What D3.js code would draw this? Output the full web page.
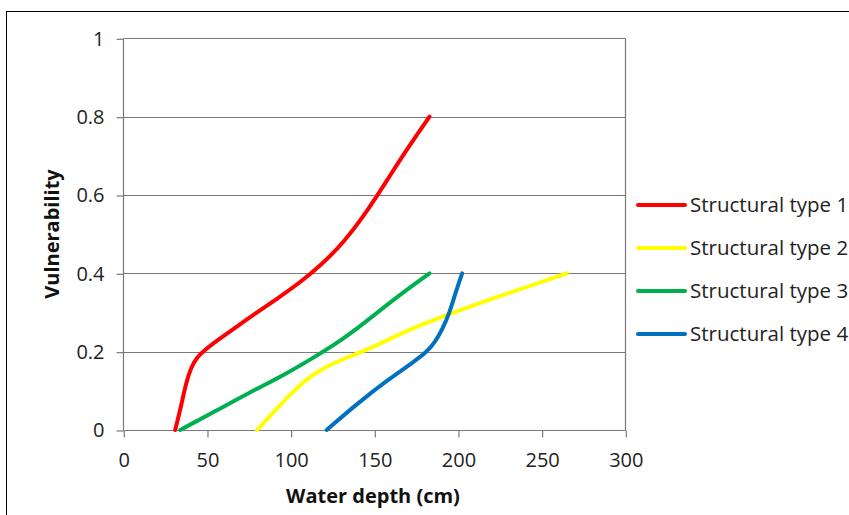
<!DOCTYPE html>
<html><head><meta charset="utf-8">
<script src="https://cdn.jsdelivr.net/npm/d3@7"></script>
<style>body{margin:0;background:#fff}svg{display:block}text{font-family:"Open Sans",Carlito,Calibri,sans-serif}</style>
</head><body><svg id="c" width="849" height="515"></svg>
<script>
const seriesNames = ["Structural type 1","Structural type 2","Structural type 3","Structural type 4"];
const seriesColors = ["#FF0000","#FFFF00","#00B050","#0070C0"];
const type1Depth = [31,34.5,37.5,40.5,44,48,55,65,78,92,106,118,132,146,158,170,183];
const type1Vuln  = [0,0.06,0.12,0.16,0.185,0.202,0.225,0.255,0.295,0.335,0.378,0.42,0.48,0.56,0.64,0.72,0.8];
const type2Depth = [80,95,110,125,138,150,165,187,220,265];
const type2Vuln  = [0,0.07,0.135,0.17,0.192,0.213,0.245,0.284,0.335,0.4];
const type3Depth = [34,55,75,96,115,130,145,162,183];
const type3Vuln  = [0,0.048,0.095,0.14,0.188,0.228,0.276,0.335,0.4];
const type4Depth = [121.5,140,158,173,181,186,191,195,198.5,202.5];
const type4Vuln  = [0,0.068,0.128,0.172,0.198,0.222,0.26,0.3,0.35,0.4];
const xTicks = [0,50,100,150,200,250,300];
const yTicks = [0,0.2,0.4,0.6,0.8,1];

const depths=[type1Depth,type2Depth,type3Depth,type4Depth];
const vulns=[type1Vuln,type2Vuln,type3Vuln,type4Vuln];
const svg=d3.select("#c");
const L=123.3,R=625.3,T=38.3,B=430;
const x=d3.scaleLinear().domain([0,300]).range([L,R]);
const y=d3.scaleLinear().domain([0,1]).range([B,T]);
const FONT='"Open Sans",Carlito,Calibri,sans-serif';

svg.append("rect").attr("x",6.5).attr("y",11.5).attr("width",900).attr("height",600)
  .attr("fill","none").attr("stroke","#000").attr("stroke-width",1);

const grid="#7a7a7a";
svg.append("g").selectAll("line").data(yTicks.filter(d=>d>0)).join("line")
  .attr("x1",L).attr("x2",R).attr("y1",d=>Math.round(y(d))+0.5).attr("y2",d=>Math.round(y(d))+0.5)
  .attr("stroke",grid).attr("stroke-width",1.2);
svg.append("line").attr("x1",Math.round(R)+0.5).attr("x2",Math.round(R)+0.5).attr("y1",Math.round(T)+0.5).attr("y2",B+0.5)
  .attr("stroke",grid).attr("stroke-width",1.2);

const yAxis=svg.append("g").attr("transform",`translate(${Math.round(L)+0.5},0.5)`)
  .call(d3.axisLeft(y).tickValues(yTicks).tickFormat(d=>d3.format("")(d)).tickSize(7).tickPadding(12));
const xAxis=svg.append("g").attr("transform",`translate(0.5,${B+0.5})`)
  .call(d3.axisBottom(x).tickValues(xTicks).tickSize(7).tickPadding(15));
[yAxis,xAxis].forEach(a=>{
  a.select(".domain").attr("stroke",grid).attr("stroke-width",1.2);
  a.selectAll(".tick line").attr("stroke",grid).attr("stroke-width",1.2);
  a.selectAll("text").attr("font-size",20).attr("fill","#222").style("font-family",FONT);
});
xAxis.selectAll("path.domain").attr("d",`M${L},0H${R}`);
yAxis.selectAll("path.domain").attr("d",`M0,${B}V${T}`);

const line=d3.line().x(d=>x(d[0])).y(d=>y(d[1])).curve(d3.curveBasis);
depths.forEach((dArr,i)=>{
  const pts=dArr.map((d,j)=>[d,vulns[i][j]]);
  svg.append("path").datum(pts).attr("d",line).attr("fill","none")
    .attr("stroke",seriesColors[i]).attr("stroke-width",4).attr("stroke-linecap","round");
});

const lg=svg.append("g");
seriesNames.forEach((n,i)=>{
  const cy=205+i*43;
  lg.append("line").attr("x1",638).attr("x2",685).attr("y1",cy).attr("y2",cy)
    .attr("stroke",seriesColors[i]).attr("stroke-width",4).attr("stroke-linecap","round");
  lg.append("text").attr("x",690).attr("y",cy).attr("dy","0.35em").attr("font-size",20.5).attr("fill","#222").text(n);
});

svg.append("text").attr("x",373).attr("y",496).attr("dy","0.35em").attr("text-anchor","middle")
  .attr("font-size",20).attr("font-weight","bold").attr("fill","#111").text("Water depth (cm)");
svg.append("text").attr("transform","translate(52,234) rotate(-90)").attr("dy","0.35em").attr("text-anchor","middle")
  .attr("font-size",20).attr("font-weight","bold").attr("fill","#111").text("Vulnerability");
</script></body></html>
